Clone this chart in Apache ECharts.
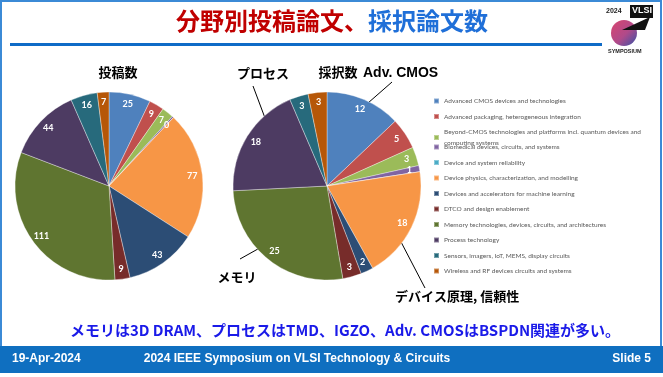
<!DOCTYPE html>
<html>
<head>
<meta charset="utf-8">
<script src="https://cdn.jsdelivr.net/npm/echarts@6/dist/echarts.min.js"></script>
<style>
  html, body { margin: 0; padding: 0; background: #fff; }
  #main { width: 663px; height: 377px; }
</style>
</head>
<body>
<div id="main"></div>
<script>
// 分野別 投稿数 / 採択数
const categories = [
  'Advanced CMOS devices and technologies',
  'Advanced packaging, heterogeneous integration',
  'Beyond-CMOS technologies and platforms incl. quantum devices and computing systems',
  'Biomedical devices, circuits, and systems',
  'Device and system reliability',
  'Device physics, characterization, and modelling',
  'Devices and accelerators for machine learning',
  'DTCO and design enablement',
  'Memory technologies, devices, circuits, and architectures',
  'Process technology',
  'Sensors, imagers, IoT, MEMS, display circuits',
  'Wireless and RF devices circuits and systems'
];
const submitted = [25, 9, 7, 1, 0, 77, 43, 9, 111, 44, 16, 7];
const accepted = [12, 5, 3, 1, 0, 18, 2, 3, 25, 18, 3, 3];
const colors = ['#4F81BD', '#C0504D', '#9BBB59', '#8064A2', '#4BACC6', '#F79646',
                '#2C4D75', '#772C2A', '#5F7530', '#4D3B62', '#276A7C', '#B65708'];

const jp = '"Noto Sans CJK JP", sans-serif';
const R = 94;

function pieData(vals) {
  return categories.map((c, i) => ({ name: c, value: vals[i] }));
}

// visible pie (no labels) + transparent outer ring carrying labels near the rim
function pies(vals, cx, hideZero) {
  return [
    {
      type: 'pie', center: [cx, 186], radius: [0, R],
      startAngle: 90, clockwise: true, silent: true,
      label: { show: false }, labelLine: { show: false },
      itemStyle: { borderColor: 'rgba(255,255,255,0.35)', borderWidth: 1 },
      data: pieData(vals)
    },
    {
      type: 'pie', center: [cx, 186], radius: [R * 0.72, R], silent: true,
      startAngle: 90, clockwise: true,
      itemStyle: { color: 'rgba(0,0,0,0)', borderWidth: 0 },
      label: {
        show: true, position: 'inside', color: '#fff', fontWeight: 'bold',
        fontFamily: 'Lato, sans-serif', fontSize: 9,
        formatter: p => (hideZero && p.value === 0) ? '' : String(p.value)
      },
      labelLine: { show: false },
      data: pieData(vals)
    }
  ];
}

const chart = echarts.init(document.getElementById('main'), null, { renderer: 'canvas' });

const legendText = { color: '#595959', fontSize: 6.5, fontFamily: 'Lato, sans-serif' };

const option = {
  animation: false,
  color: colors,
  title: [
    { text: '投稿数', left: 113, top: 61, textAlign: 'center',
      textStyle: { fontSize: 13, fontWeight: 'bold', fontFamily: jp, color: '#000' } },
    { text: '採択数', left: 333, top: 61, textAlign: 'center',
      textStyle: { fontSize: 13, fontWeight: 'bold', fontFamily: jp, color: '#000' } }
  ],
  legend: [
    {
      orient: 'vertical', left: 433, top: 95.5, padding: 0, itemWidth: 5, itemHeight: 5, itemGap: 4.5,
      icon: 'rect', selectedMode: false, textStyle: Object.assign({ lineHeight: 11 }, legendText),
      data: categories.slice(0, 3),
      formatter: n => n.replace('and computing', 'and\ncomputing')
    },
    {
      orient: 'vertical', left: 433, top: 143, padding: 0, itemWidth: 5, itemHeight: 5, itemGap: 7.5,
      icon: 'rect', selectedMode: false, textStyle: Object.assign({ lineHeight: 8 }, legendText),
      data: categories.slice(3)
    }
  ],
  series: [...pies(submitted, 109, false), ...pies(accepted, 327, true)],
  graphic: [
    // slide frame
    { type: 'rect', shape: { x: 1, y: 1, width: 660, height: 346 }, silent: true,
      style: { fill: 'none', stroke: '#3b8ad6', lineWidth: 2 } },
    // title
    { type: 'text', left: 176, top: 9,
      style: { rich: {
        r: { fill: '#c00000', fontSize: 24, fontWeight: 'bold', fontFamily: jp },
        b: { fill: '#1f6fd8', fontSize: 24, fontWeight: 'bold', fontFamily: jp }
      }, text: '{r|分野別投稿論文、}{b|採択論文数}' } },
    { type: 'rect', shape: { x: 10, y: 43, width: 592, height: 3 }, silent: true,
      style: { fill: '#0f6bc7' } },
    // logo
    { type: 'text', x: 606, y: 8, style: { text: '2024', fontSize: 7, fontWeight: 'bold',
      fontFamily: 'Liberation Sans', fill: '#222' } },
    { type: 'rect', shape: { x: 630, y: 5, width: 23, height: 13 }, style: { fill: '#111' } },
    { type: 'text', x: 632, y: 6, style: { text: 'VLSI', fontSize: 9, fontWeight: 'bold',
      fontFamily: 'Liberation Sans', fill: '#fff' } },
    { type: 'circle', shape: { cx: 624, cy: 33, r: 13 },
      style: { fill: new echarts.graphic.LinearGradient(0, 0, 1, 1, [
        { offset: 0, color: '#d9456f' }, { offset: 0.55, color: '#b04a8a' }, { offset: 1, color: '#3552a8' }]) } },
    { type: 'polygon', shape: { points: [[622, 30], [650, 17], [645, 30]] }, style: { fill: '#111' } },
    { type: 'text', x: 608, y: 48, style: { text: 'SYMPOSIUM', fontSize: 5.5, fontWeight: 'bold',
      fontFamily: 'Liberation Sans', fill: '#222' } },
    // callouts
    { type: 'text', x: 263, y: 73, style: { text: 'プロセス', fontSize: 13, fontWeight: 'bold',
      fontFamily: jp, fill: '#000', align: 'center', verticalAlign: 'middle' } },
    { type: 'line', shape: { x1: 253, y1: 86, x2: 265, y2: 118 }, style: { stroke: '#000', lineWidth: 1 } },
    { type: 'text', x: 363, y: 73, style: { text: 'Adv. CMOS', fontSize: 14, fontWeight: 'bold',
      fontFamily: 'Liberation Sans', fill: '#000', verticalAlign: 'middle' } },
    { type: 'line', shape: { x1: 392, y1: 82, x2: 368, y2: 103 }, style: { stroke: '#000', lineWidth: 1 } },
    { type: 'text', x: 237, y: 277, style: { text: 'メモリ', fontSize: 13, fontWeight: 'bold',
      fontFamily: jp, fill: '#000', align: 'center', verticalAlign: 'middle' } },
    { type: 'line', shape: { x1: 240, y1: 259, x2: 265, y2: 245 }, style: { stroke: '#000', lineWidth: 1 } },
    { type: 'text', x: 395, y: 296, style: { text: 'デバイス原理, 信頼性', fontSize: 13, fontWeight: 'bold',
      fontFamily: jp, fill: '#000', verticalAlign: 'middle' } },
    { type: 'line', shape: { x1: 400, y1: 240, x2: 425, y2: 288 }, style: { stroke: '#000', lineWidth: 1 } },
    // summary
    { type: 'text', x: 345, y: 330, style: { text: 'メモリは3D DRAM、プロセスはTMD、IGZO、Adv. CMOSはBSPDN関連が多い。',
      fontSize: 15, fontWeight: 'bold', fontFamily: jp, fill: '#1a1ae8', align: 'center', verticalAlign: 'middle' } },
    // footer
    { type: 'rect', shape: { x: 0, y: 346, width: 663, height: 27 }, style: { fill: '#0f6fc0' } },
    { type: 'text', x: 12, y: 359, style: { text: '19-Apr-2024', fontSize: 12, fontWeight: 'bold',
      fontFamily: 'Liberation Sans', fill: '#fff', verticalAlign: 'middle' } },
    { type: 'text', x: 297, y: 359, style: { text: '2024 IEEE Symposium on VLSI Technology & Circuits', fontSize: 12,
      fontWeight: 'bold', fontFamily: 'Liberation Sans', fill: '#fff', align: 'center', verticalAlign: 'middle' } },
    { type: 'text', x: 651, y: 359, style: { text: 'Slide 5', fontSize: 12, fontWeight: 'bold',
      fontFamily: 'Liberation Sans', fill: '#fff', align: 'right', verticalAlign: 'middle' } }
  ]
};

chart.setOption(option);
</script>
</body>
</html>
